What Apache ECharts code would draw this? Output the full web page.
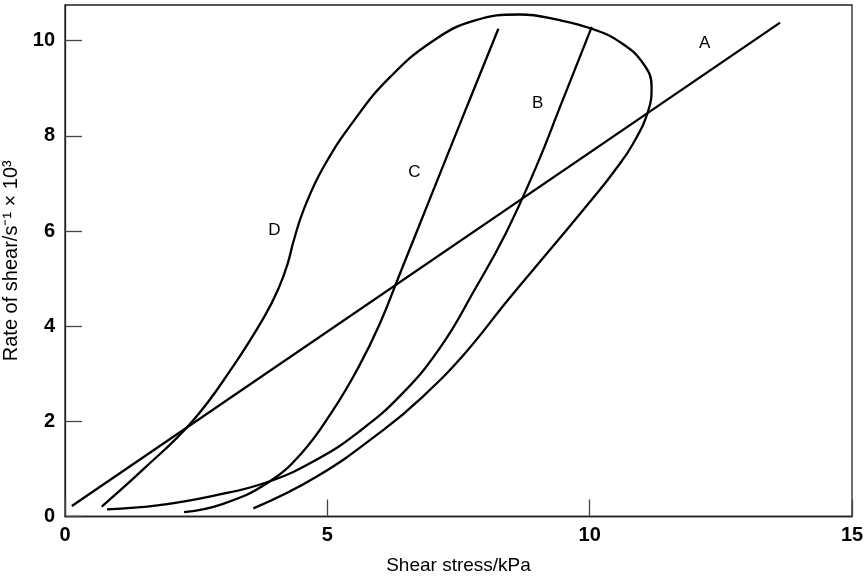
<!DOCTYPE html>
<html>
<head>
<meta charset="utf-8">
<script src="https://cdn.jsdelivr.net/npm/echarts@6/dist/echarts.min.js"></script>
<style>html,body{margin:0;padding:0;background:#fff}#chart{width:865px;height:578px}</style>
</head>
<body>
<div id="chart"></div>
<script>
// Shear stress (kPa) vs rate of shear (s^-1 x 10^3)
const xTicks = [0, 5, 10, 15];
const yTicks = [0, 2, 4, 6, 8, 10];
const lineA = [[0.13, 0.22], [13.63, 10.38]];
const curveB = [[0.80, 0.15], [1.80, 0.24], [2.80, 0.43], [3.85, 0.72], [4.80, 1.20], [5.60, 1.78], [6.40, 2.55], [7.15, 3.55], [7.80, 4.75], [8.40, 5.95], [9.00, 7.40], [9.45, 8.65], [10.04, 10.29]];
const curveC = [[2.27, 0.09], [3.00, 0.26], [3.85, 0.70], [4.50, 1.32], [5.10, 2.22], [5.60, 3.15], [6.00, 4.05], [6.40, 5.15], [7.00, 6.80], [7.60, 8.45], [8.26, 10.25]];
const curveD = [[0.70, 0.21], [1.50, 1.00], [2.42, 1.99], [3.20, 3.15], [3.80, 4.20], [4.08, 4.82], [4.24, 5.30], [4.36, 5.80], [4.55, 6.45], [4.93, 7.35], [5.56, 8.40], [6.20, 9.24], [7.02, 10.00], [7.80, 10.42], [8.67, 10.55], [9.43, 10.43], [10.04, 10.25], [10.58, 9.97], [11.02, 9.52], [11.18, 9.03], [11.12, 8.54], [10.83, 7.84], [10.45, 7.23], [10.10, 6.74], [9.30, 5.68], [8.45, 4.56], [7.60, 3.40], [6.80, 2.50], [6.07, 1.82], [4.80, 0.84], [3.59, 0.17]];
const curveNames = ['A', 'B', 'C', 'D'];
const labelPoints = [[12.2, 9.93], [9.02, 8.68], [6.67, 7.23], [4.0, 6.0]];

const FONT = '"Liberation Sans", Arial, Helvetica, sans-serif';
const chart = echarts.init(document.getElementById('chart'));

function curve(data, name) {
  return {
    type: 'line', name: name, data: data, smooth: 0.45, showSymbol: false,
    symbol: 'none', silent: true,
    lineStyle: { color: '#000', width: 2.3 }
  };
}

chart.setOption({
  animation: false,
  backgroundColor: '#fff',
  grid: { left: 65, right: 13, top: 5, bottom: 61.5, outerBoundsMode: 'none', containLabel: false, show: true, borderColor: '#222', borderWidth: 1.3, backgroundColor: 'transparent' },
  xAxis: {
    type: 'value', min: xTicks[0], max: xTicks[xTicks.length - 1], interval: 5,
    name: 'Shear stress/kPa', nameLocation: 'middle', nameGap: 40,
    nameTextStyle: { fontFamily: FONT, fontSize: 19, color: '#000' },
    axisLine: { show: true, lineStyle: { color: '#222', width: 1.3 } },
    axisTick: { show: true, inside: true, length: 17, customValues: xTicks, lineStyle: { color: '#444', width: 1.3 } },
    axisLabel: { fontFamily: FONT, fontSize: 20, fontWeight: 'bold', color: '#000', margin: 9, customValues: xTicks },
    splitLine: { show: false }
  },
  yAxis: {
    type: 'value', min: yTicks[0], max: 10.75, interval: 2,
    name: 'Rate of shear/s\u207B\u00B9 \u00D7 10\u00B3', nameLocation: 'middle', nameGap: 12, nameRotate: 90,
    nameTextStyle: { fontFamily: FONT, fontSize: 20, color: '#000' },
    axisLine: { show: true, lineStyle: { color: '#222', width: 1.3 } },
    axisTick: { show: true, inside: true, length: 17, customValues: yTicks, lineStyle: { color: '#444', width: 1.3 } },
    axisLabel: { fontFamily: FONT, fontSize: 20, fontWeight: 'bold', color: '#000', margin: 10, customValues: yTicks },
    splitLine: { show: false }
  },
  series: [
    curve(lineA, curveNames[0]),
    curve(curveB, curveNames[1]),
    curve(curveC, curveNames[2]),
    curve(curveD, curveNames[3]),
    {
      type: 'scatter', silent: true, symbolSize: 1,
      itemStyle: { color: 'rgba(0,0,0,0)' },
      data: labelPoints.map(function (p, i) { return { value: p, name: curveNames[i] }; }),
      label: { show: true, position: [0, 0], align: 'center', verticalAlign: 'middle', formatter: '{b}', fontFamily: FONT, fontSize: 17, color: '#000', opacity: 1, textBorderWidth: 0 }
    }
  ]
});
</script>
</body>
</html>
